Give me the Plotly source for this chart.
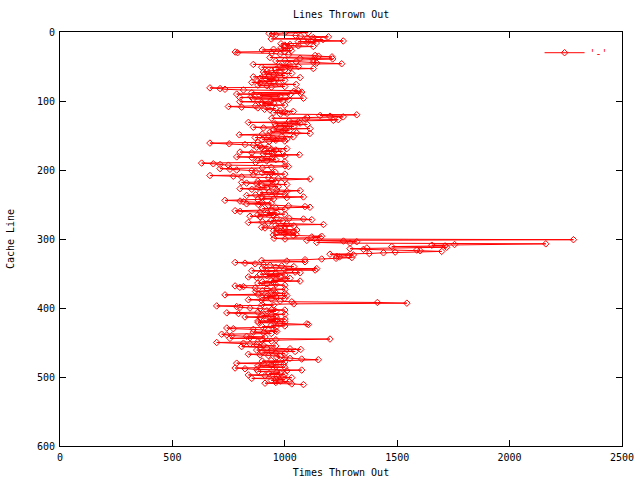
import plotly.graph_objects as go

title_text = "Lines Thrown Out"
x_title = "Times Thrown Out"
y_title = "Cache Line"
series_name = "'-'"

# Times each cache line was thrown out (cache lines 0..511)
times_thrown_out = [
    1004, 1104, 930, 945,
    960, 1048, 1070, 1194, 1127, 1100, 940,
    1170, 1127, 1260, 1060, 1100, 1140,
    983, 1023, 1000, 1060, 1127, 1000, 983, 1023, 950, 900, 1030, 1000,
    780, 790,
    942, 979, 1016, 1135, 1150, 1210,
    934, 1068, 1213, 1127, 1000, 960, 1050,
    1127, 1142, 1253, 860, 1020, 980, 1060,
    897, 1023, 1127, 960, 1000, 940, 920,
    905, 979, 1031, 910, 950, 1000, 930,
    860, 1068, 890, 960, 920, 1000, 880, 950,
    853, 890, 975, 1050, 880, 920, 1000, 940,
    667, 712, 734, 816, 1060,
    1040, 1075, 853, 1070,
    786, 1023, 890, 979, 850,
    800, 1083, 860, 1016, 940, 990,
    800, 897, 950, 900, 920, 1000, 870,
    749, 808, 880, 960, 910,
    934, 979, 1038, 1000, 950, 1010, 980,
    1320, 1157, 1201, 1260, 1100,
    942, 1090, 1238, 1216, 1020, 1060,
    838, 1068, 957, 1100, 1000, 960, 1040,
    860, 905, 1112, 1000, 950, 1020, 990,
    934, 1053, 1112, 900,
    798, 927, 986, 1038, 868, 950, 1010, 900,
    960, 1000, 930, 880,
    667, 753, 823, 860, 890, 927,
    875, 897, 1009, 940, 960, 910, 990,
    801, 853, 942, 905, 1065, 950, 1000,
    786, 853, 942, 900, 960, 880, 920, 1000, 870,
    630, 682, 712, 749, 1001, 1016, 940, 900,
    712, 756, 786, 853, 870, 957, 900, 940, 1000, 860,
    667, 771, 808, 927, 971, 1112, 1000, 940, 880, 960,
    808, 830, 875, 1009, 900, 940, 970, 880, 920,
    801, 853, 964, 1068, 1009, 930, 890, 960, 1000, 870,
    830, 897, 1083, 1009, 900, 950, 880,
    734, 801, 816, 900, 940,
    830, 882, 927, 1016, 1090, 1112, 960, 900, 1000, 940,
    779, 801, 890, 964, 920, 1000, 880, 950,
    845, 890, 964, 1020, 1083, 1120, 940, 990, 900,
    838, 927, 1009, 1172, 960, 1040, 1000,
    897, 912, 964, 1000, 1053, 950, 979,
    1038, 964, 1000, 1050, 949, 1038,
    1164, 1120, 1157, 952,
    1001, 2284, 1098, 1261, 1320, 1142,
    1290, 2161, 1755, 1654,
    1713, 1476, 1720, 1365,
    1290, 1350, 1587, 1602, 1698, 1491,
    1439, 1376, 1201, 1305, 1283, 1231, 1243, 1298, 1228, 1164,
    1090, 897, 1009, 1090,
    779, 823, 868, 905, 934, 986, 1040, 960, 900,
    1142, 1000, 1135, 853, 920, 1046, 1068, 960, 890, 1000,
    920, 979, 838, 875, 1023, 1001, 960, 940, 1068, 900, 950, 880,
    920, 960, 1000, 779, 816, 800, 868, 920, 1001, 950, 900, 870, 940,
    960, 1000, 880, 734, 1009, 920, 960, 900, 1000, 940,
    838, 897, 979, 1031, 1412, 1543, 1040, 900, 950,
    697, 786, 801, 845, 890, 942, 1000, 920, 960,
    880, 742, 794, 1001, 940, 900, 960,
    823, 890, 964, 1001, 920, 960, 880, 1000,
    882, 979, 1098, 1105, 940, 1000, 900, 960,
    742, 771, 860, 927, 957, 964, 860, 905, 940,
    719, 742, 764, 830, 912, 845, 756,
    1201, 960, 900, 940, 880, 697,
    816, 845, 875, 905, 960,
    808, 890, 920, 1023, 1071,
    875, 942, 1046, 900, 960, 1000,
    838, 890, 927, 980,
    964, 1001, 1023, 1075, 1149, 940, 900, 1000, 960,
    786, 905, 994, 940, 880, 960, 1000,
    779, 823, 875, 1075, 1009,
    882, 964, 979, 930, 1000,
    838, 912, 964, 994, 1031, 853, 960,
    1000, 940, 980, 1020, 960,
    912, 1031, 1083,
]
cache_lines = list(range(len(times_thrown_out)))

x_ticks = [0, 500, 1000, 1500, 2000, 2500]
y_ticks = [0, 100, 200, 300, 400, 500, 600]

FONT = "DejaVu Sans Mono"

fig = go.Figure()
fig.add_trace(go.Scatter(
    x=times_thrown_out, y=cache_lines, mode="lines+markers", name=series_name,
    line=dict(color="#ff0000", width=1),
    marker=dict(symbol="diamond-open", size=5, color="#ff0000", line=dict(width=1, color="#ff0000")),
))

axis_common = dict(
    showline=True, linecolor="black", linewidth=1, mirror="ticks", automargin=False,
    ticks="inside", ticklen=6, tickcolor="black", showgrid=False, zeroline=False,
    tickfont=dict(family=FONT, size=10, color="black"),
)

fig.update_layout(
    width=640, height=480,
    margin=dict(l=60, r=18, t=32, b=34, autoexpand=False),
    paper_bgcolor="white", plot_bgcolor="white",
    title=dict(text=title_text, x=0.533, xanchor="center", y=0.969, yanchor="middle",
               yref="container", automargin=False,
               font=dict(family=FONT, size=10, color="black")),
    xaxis=dict(range=[0, 2500], tickvals=x_ticks, ticklabelstandoff=2,
               title=dict(text=x_title, standoff=6,
               font=dict(family=FONT, size=10, color="black")), **axis_common),
    yaxis=dict(range=[600, 0], tickvals=y_ticks, ticklabelstandoff=2,
               title=dict(text=y_title, standoff=20,
               font=dict(family=FONT, size=10, color="black")), **axis_common),
    showlegend=True,
    legend=dict(x=0.985, y=0.985, xanchor="right", yanchor="top", bgcolor="rgba(0,0,0,0)",
                font=dict(family=FONT, size=10, color="#ff0000"), itemwidth=40),
)

fig.write_html("out.html", config={"displayModeBar": False},
               post_script="document.body.style.margin='0';")
